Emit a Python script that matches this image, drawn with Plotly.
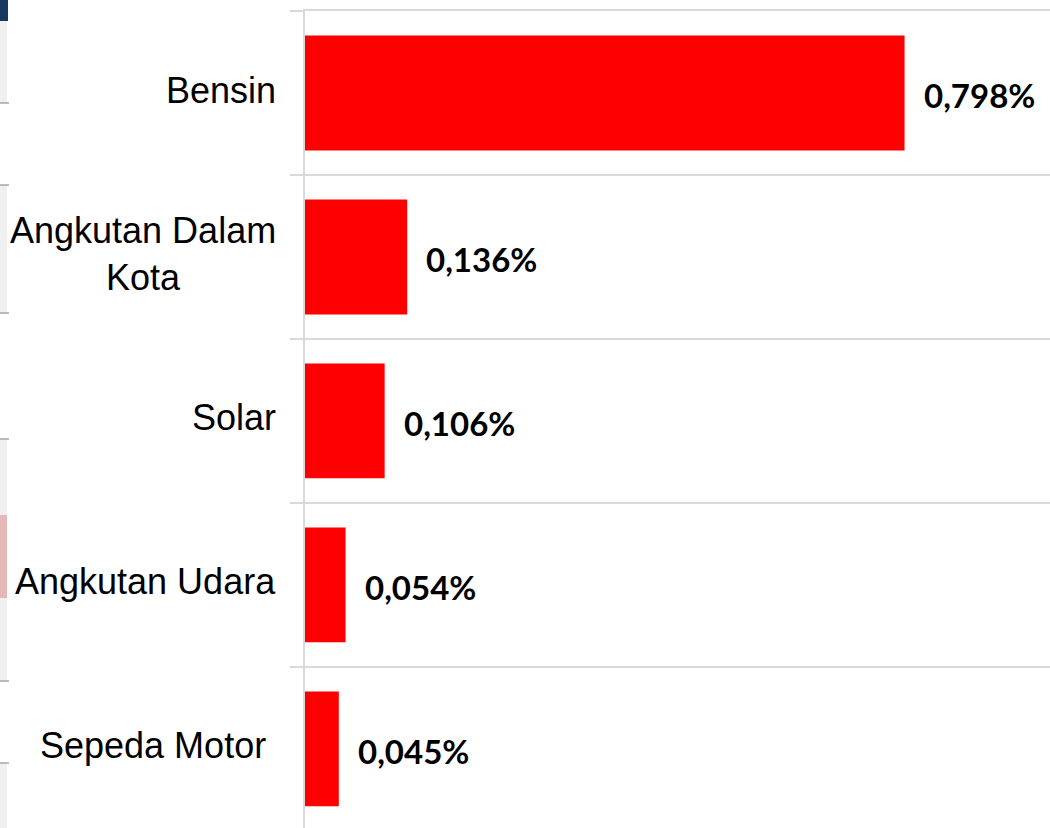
import plotly.graph_objects as go

# Data
categories = ["Bensin", "Angkutan Dalam Kota", "Solar", "Angkutan Udara", "Sepeda Motor"]
category_labels = ["Bensin", "Angkutan Dalam<br>Kota", "Solar", "Angkutan Udara", "Sepeda Motor\u00a0"]
values = [0.798, 0.136, 0.106, 0.054, 0.045]
value_labels = ["0,798%", "0,136%", "0,106%", "0,054%", "0,045%"]

W, H = 1050, 828
ML, MR, MT, MB = 305, 0, 11, 0
PW, PH = W - ML - MR, H - MT - MB


def xp(px):
    return (px - ML) / PW


def yp(py):
    return (H - MB - py) / PH


fig = go.Figure()
fig.add_trace(go.Bar(
    x=values,
    y=categories,
    orientation="h",
    marker=dict(color="#ff0000", line=dict(width=0)),
    hoverinfo="skip",
))

annotations = []
for cat, lab in zip(categories, category_labels):
    annotations.append(dict(
        xref="paper", yref="y", x=0, y=cat, text=lab,
        xanchor="right", yanchor="middle", align="center", xshift=-27, yshift=3,
        showarrow=False,
        font=dict(family="Liberation Sans, Arial, sans-serif", size=36, color="#000000"),
    ))
for cat, v, lab in zip(categories, values, value_labels):
    annotations.append(dict(
        xref="x", yref="y", x=v, y=cat, text="<b>" + lab + "</b>",
        xanchor="left", yanchor="middle", xshift=17, yshift=-2,
        showarrow=False,
        font=dict(family="Lato, Open Sans, sans-serif", size=33, color="#000000"),
    ))

# left-edge strip (neighbouring sheet fragment)
shapes = []
def rect(y0, y1, color, x0=0, x1=7):
    shapes.append(dict(type="rect", xref="paper", yref="paper",
                       x0=xp(x0), x1=xp(x1), y0=yp(y1), y1=yp(y0),
                       fillcolor=color, line=dict(width=0), layer="below"))
def hline(y):
    shapes.append(dict(type="line", xref="paper", yref="paper",
                       x0=xp(0), x1=xp(9), y0=yp(y), y1=yp(y),
                       line=dict(color="#a6a6a6", width=1.5)))

rect(0, 21, "#17375e", 0, 8)
rect(21, 103, "#f0f0f0")
rect(185, 313, "#f0f0f0")
rect(439, 515, "#f0f0f0")
rect(515, 598, "#e6b8b7")
rect(598, 681, "#f0f0f0")
rect(763, 828, "#f0f0f0")
for y in [103, 185, 313, 439, 681, 763]:
    hline(y)

fig.update_layout(
    width=W, height=H,
    margin=dict(l=ML, r=MR, t=MT, b=MB, pad=0),
    paper_bgcolor="#ffffff",
    plot_bgcolor="#ffffff",
    showlegend=False,
    bargap=0.3,
    annotations=annotations,
    shapes=shapes,
    xaxis=dict(range=[0, 0.9916], side="top", showgrid=False, zeroline=False,
               showticklabels=False, ticks="", showline=True,
               linecolor="#d9d9d9", linewidth=2),
    yaxis=dict(type="category", categoryorder="array", categoryarray=categories,
               range=[4.482, -0.5], tickson="boundaries",
               ticks="outside", ticklen=13, tickcolor="#d9d9d9", tickwidth=2,
               showgrid=True, gridcolor="#d9d9d9", gridwidth=2,
               showline=True, linecolor="#d9d9d9", linewidth=2,
               showticklabels=False, zeroline=False),
)

fig.write_html(
    "out.html",
    config={"displayModeBar": False},
    post_script="document.body.style.margin='0';document.body.style.overflow='hidden';",
)
